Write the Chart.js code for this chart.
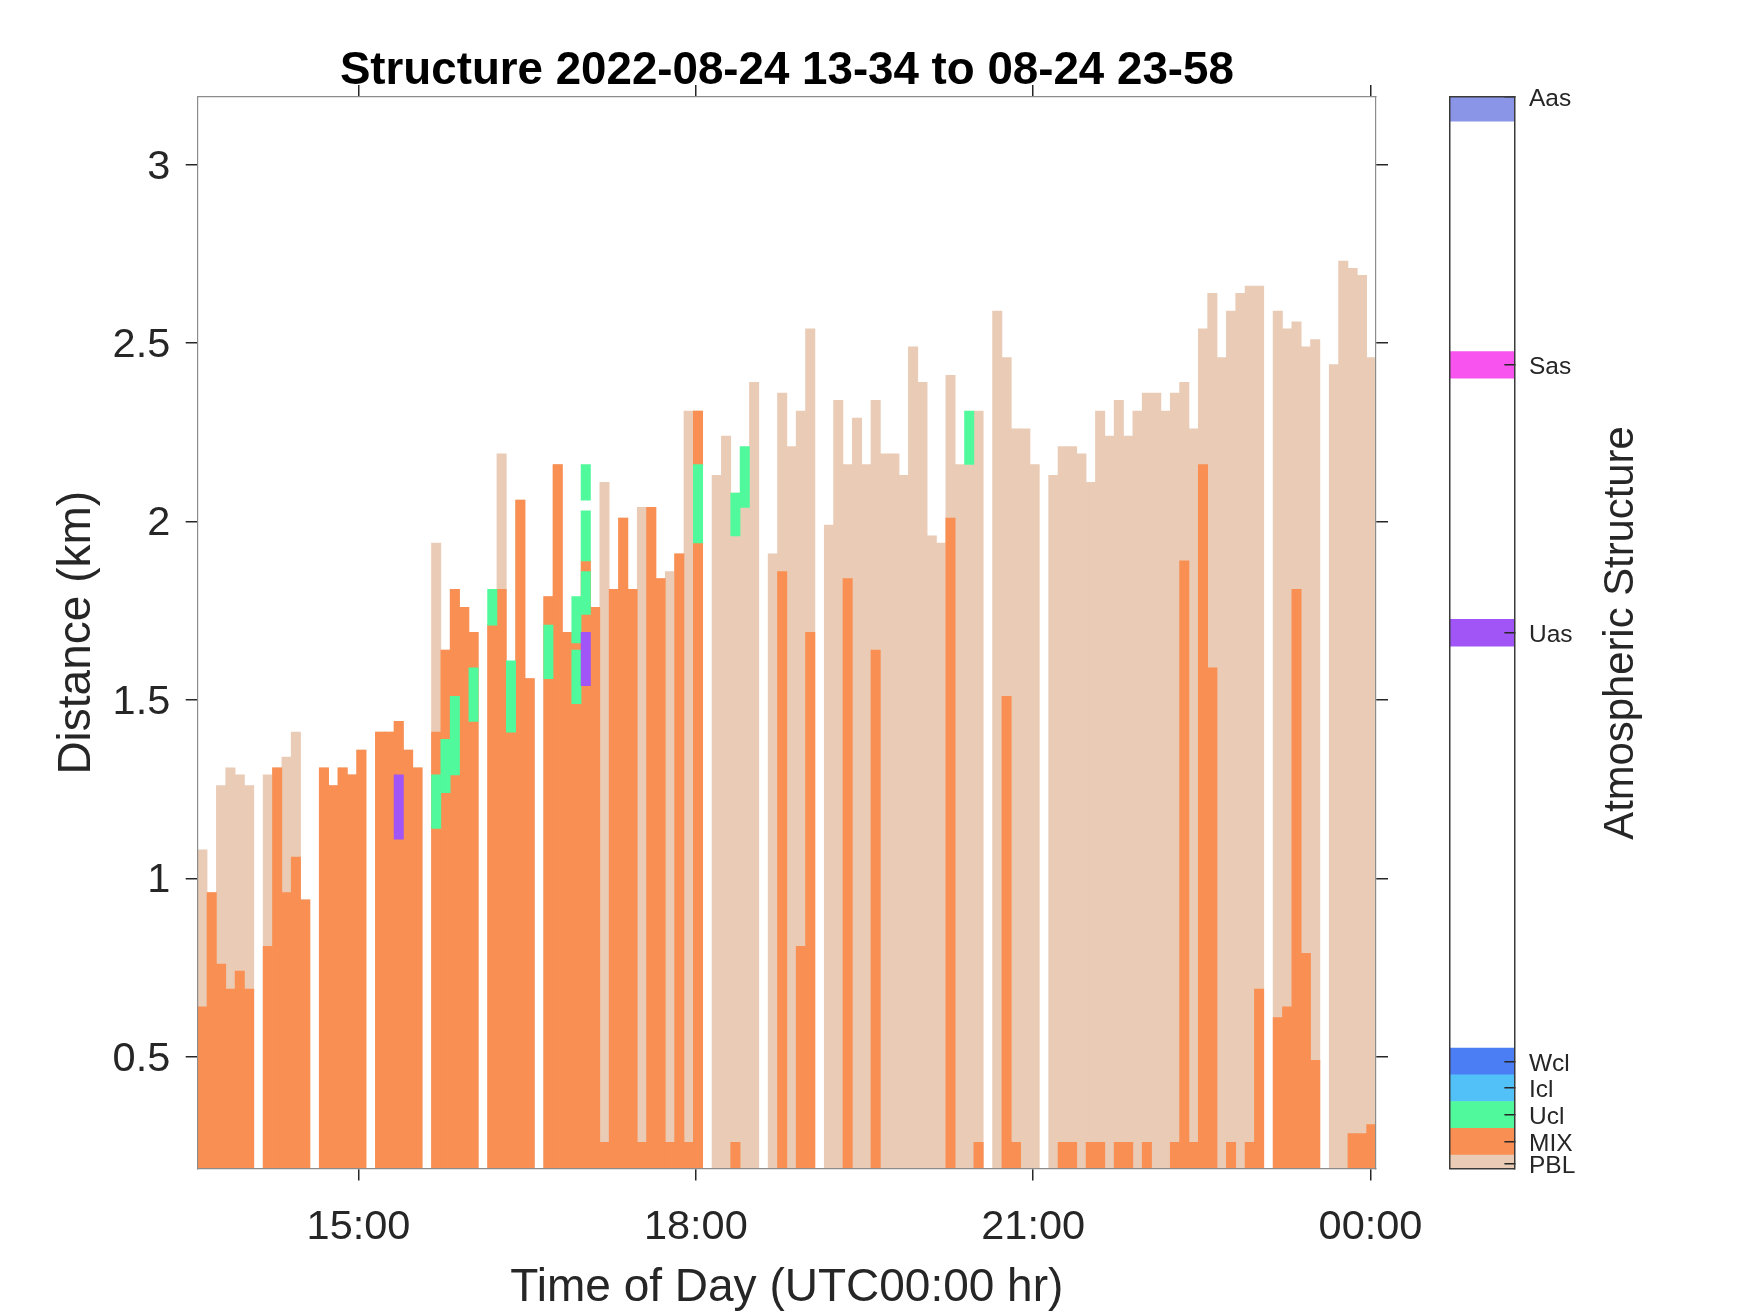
<!DOCTYPE html>
<html><head><meta charset="utf-8">
<script src="https://cdn.jsdelivr.net/npm/chart.js@4.4.1/dist/chart.umd.min.js"></script>
<style>
html,body{margin:0;padding:0;background:#fff;}
#wrap{position:relative;width:1750px;height:1313px;overflow:hidden;}
canvas{position:absolute;top:0;}
</style></head><body>
<div id="wrap">
<canvas id="main" width="1750" height="1313" style="left:0;width:1750px;height:1313px"></canvas>
<canvas id="cbar" width="350" height="1313" style="left:1400px;width:350px;height:1313px"></canvas>
<canvas id="cbtitle" width="100" height="1313" style="left:1570px;width:100px;height:1313px"></canvas>
</div>
<script>
// ---------------- data ----------------
const titleText = 'Structure 2022-08-24 13-34 to 08-24 23-58';
const startHour = 13.57;      // 13:34 (left edge of first profile)
const endHour = 24.049;       // right edge of last profile
const nProfiles = 126;        // ~5-minute profiles

// PBL height (km) per profile, null = no data
const pblTop = [
1.08, 0.96, 1.26, 1.31, 1.29, 1.26, null, 1.29, 1.31, 1.34,
1.41, 0.94, null, 1.31, 1.26, 1.31, 1.29, 1.36, null, 1.41,
1.41, 1.44, 1.36, 1.31, null, 1.94, 1.64, 1.81, 1.76, 1.69,
null, 1.71, 2.19, 1.41, 2.06, 1.56, null, 1.79, 2.16, 1.69,
1.66, 1.89, 1.76, 2.11, 1.81, 2.01, 1.81, 2.04, 2.04, 1.84,
1.86, 1.91, 2.31, 2.31, null, 2.13, 2.24, 2.08, 2.04, 2.39,
null, 1.91, 2.36, 2.21, 2.31, 2.54, null, 1.99, 2.34, 2.16,
2.29, 2.16, 2.34, 2.19, 2.19, 2.13, 2.49, 2.39, 1.96, 1.94,
2.41, 2.16, 2.16, 2.31, null, 2.59, 2.46, 2.26, 2.26, 2.16,
null, 2.13, 2.21, 2.21, 2.19, 2.11, 2.31, 2.24, 2.34, 2.24,
2.31, 2.36, 2.36, 2.31, 2.36, 2.39, 2.26, 2.54, 2.64, 2.46,
2.59, 2.64, 2.66, 2.66, null, 2.59, 2.54, 2.56, 2.49, 2.51,
null, 2.44, 2.73, 2.71, 2.69, 2.46
];
// Mixing layer height (km) per profile, null = none
const mixTop = [
0.64, 0.96, 0.76, 0.69, 0.74, 0.69, null, 0.81, 1.31, 0.96,
1.06, 0.94, null, 1.31, 1.26, 1.31, 1.29, 1.36, null, 1.41,
1.41, 1.44, 1.36, 1.31, null, 1.41, 1.64, 1.81, 1.76, 1.69,
null, 1.71, 1.81, 1.41, 2.06, 1.56, null, 1.79, 2.16, 1.69,
1.66, 1.89, 1.76, 0.26, 1.81, 2.01, 1.81, 0.26, 2.04, 1.84,
0.26, 1.91, 0.26, 2.31, null, null, null, 0.26, null, null,
null, null, 1.86, null, 0.81, 1.69, null, null, null, 1.84,
null, null, 1.64, null, null, null, null, null, null, null,
2.01, null, null, 0.26, null, null, 1.51, 0.26, null, null,
null, null, 0.26, 0.26, null, 0.26, 0.26, null, 0.26, 0.26,
null, 0.26, null, null, 0.26, 1.89, 0.26, 2.16, 1.59, null,
0.26, null, 0.26, 0.69, null, 0.61, 0.64, 1.81, 0.79, 0.49,
null, null, null, 0.285, 0.285, 0.31
];
// Undefined cloud layers: [profile index, base km, top km]
const uclLayers = [
[25, 1.14, 1.29], [26, 1.24, 1.39], [27, 1.29, 1.51], [29, 1.44, 1.59],
[31, 1.71, 1.81], [33, 1.41, 1.61], [37, 1.56, 1.71], [40, 1.66, 1.79],
[40, 1.49, 1.64], [41, 2.06, 2.16], [41, 1.89, 2.03], [41, 1.74, 1.86],
[53, 1.94, 2.16], [57, 1.96, 2.08], [58, 2.04, 2.21], [82, 2.16, 2.31]
];
// Undefined aerosol layers
const uasLayers = [[21, 1.11, 1.29], [41, 1.54, 1.69]];

const xTickVals = [15, 18, 21, 24];
const xTickLabels = ['15:00', '18:00', '21:00', '00:00'];
const yTickVals = [0.5, 1, 1.5, 2, 2.5, 3];
const yTickLabels = ['0.5', '1', '1.5', '2', '2.5', '3'];
const yMin = 0.187, yMax = 3.19;

// colour bar classes
const cbLabels = ['PBL', 'MIX', 'Ucl', 'Icl', 'Wcl', 'Uas', 'Sas', 'Aas'];
const cbTickVals = [0.17, 1, 2, 3, 4, 20, 30, 40];
const cbBandLo = [0, 0.5, 1.5, 2.5, 3.5, 19.5, 29.5, 39.1];
const cbBandHi = [0.5, 1.5, 2.5, 3.5, 4.5, 20.5, 30.5, 40];
const cbColors = ['#EACBB5', '#F98F52', '#50F99B', '#52C1F8', '#4B7DF4', '#A155F6', '#F853EE', '#8A95E8'];
const cbTitle = 'Atmospheric Structure';

// ---------------- build ----------------
const FONT = "'Liberation Sans', Arial, Helvetica, sans-serif";
const TXT = '#262626';
const step = (endHour - startHour) / nProfiles;
const centerOf = i => startHour + (i + 0.5) * step;
const colorOf = name => cbColors[cbLabels.indexOf(name)];

const colData = arr => arr.map((v, i) => v == null ? null : {x: centerOf(i), y: [0, v]}).filter(d => d);
const layerData = arr => arr.map(([i, lo, hi]) => ({x: centerOf(i), y: [lo, hi]}));

const barCommon = {borderWidth: 0, grouped: false, barPercentage: 1, categoryPercentage: 1, xAxisID: 'x', yAxisID: 'y'};

const datasets = [
  Object.assign({label: 'Uas', data: layerData(uasLayers), backgroundColor: colorOf('Uas')}, barCommon),
  Object.assign({label: 'Ucl', data: layerData(uclLayers), backgroundColor: colorOf('Ucl')}, barCommon),
  Object.assign({label: 'MIX', data: colData(mixTop), backgroundColor: colorOf('MIX')}, barCommon),
  Object.assign({label: 'PBL', data: colData(pblTop), backgroundColor: colorOf('PBL')}, barCommon)
];

const GRAY = '#8c8c8c';
const tickGrid = {drawOnChartArea: false, drawTicks: true, tickLength: 12, color: TXT, lineWidth: 1.5, offset: false};
const setTicks = vals => s => { s.ticks = vals.map(v => ({value: v})); };

new Chart(document.getElementById('main'), {
  type: 'bar',
  data: {datasets},
  options: {
    responsive: false, animation: false, devicePixelRatio: 1,
    layout: {padding: {left: 0, top: 0, bottom: 0, right: 362}},
    plugins: {legend: {display: false}, tooltip: {enabled: false}, title: {display: false}},
    scales: {
      x: {
        type: 'linear', position: 'bottom', min: startHour, max: endHour, offset: false,
        afterBuildTicks: setTicks(xTickVals),
        ticks: {callback: (v, i) => xTickLabels[i], font: {family: FONT, size: 41.5}, color: TXT, padding: 22.5, maxRotation: 0, autoSkip: false},
        grid: tickGrid,
        border: {display: true, color: GRAY, width: 1.2, z: 1},
        title: {display: true, text: 'Time of Day (UTC00:00 hr)', font: {family: FONT, size: 46, lineHeight: 1.08}, color: TXT, padding: {top: 0, bottom: 0}},
        afterFit: s => { s.height = 144.5; }
      },
      x2: {
        type: 'linear', position: 'top', min: startHour, max: endHour, offset: false,
        afterBuildTicks: setTicks(xTickVals),
        ticks: {display: false},
        grid: tickGrid,
        border: {display: true, color: GRAY, width: 1.2, z: 1},
        title: {display: true, text: titleText, font: {family: FONT, size: 45.7, weight: 'bold', lineHeight: 1.2}, color: '#000', padding: {top: 44, bottom: 0}},
        afterFit: s => { s.height = 97; }
      },
      y: {
        type: 'linear', position: 'left', min: yMin, max: yMax,
        afterBuildTicks: setTicks(yTickVals),
        ticks: {callback: (v, i) => yTickLabels[i], font: {family: FONT, size: 41.5}, color: TXT, padding: 15.4, labelOffset: 2.3, autoSkip: false},
        grid: tickGrid,
        border: {display: true, color: GRAY, width: 1.2, z: 1},
        title: {display: true, text: 'Distance (km)', font: {family: FONT, size: 46, lineHeight: 1.2}, color: TXT, padding: {top: 50, bottom: 0}},
        afterFit: s => { s.width = 197.7; }
      },
      y2: {
        type: 'linear', position: 'right', min: yMin, max: yMax,
        afterBuildTicks: setTicks(yTickVals),
        ticks: {display: false},
        grid: tickGrid,
        border: {display: true, color: GRAY, width: 1.2, z: 1},
        afterFit: s => { s.width = 12; }
      }
    }
  }
});

// ---------------- colour bar ----------------
const cbDatasets = cbLabels.map((name, k) => ({
  label: name, data: [[cbBandLo[k], cbBandHi[k]]], backgroundColor: cbColors[k],
  borderWidth: 0, grouped: false, barPercentage: 1, categoryPercentage: 1
}));
const CBB = '#3a3a3a';
new Chart(document.getElementById('cbar'), {
  type: 'bar',
  data: {labels: ['c'], datasets: cbDatasets},
  options: {
    responsive: false, animation: false, devicePixelRatio: 1,
    layout: {padding: {left: 49.7, top: 97, bottom: 144.5, right: 0}},
    plugins: {legend: {display: false}, tooltip: {enabled: false}},
    scales: {
      x: {type: 'category', position: 'bottom', offset: true, ticks: {display: false}, grid: {display: false},
          border: {display: true, color: CBB, width: 1.5, z: 2}, afterFit: s => { s.height = 0; }},
      xt: {type: 'category', position: 'top', labels: ['c'], offset: true, ticks: {display: false}, grid: {display: false},
          border: {display: true, color: CBB, width: 1.5, z: 2}, afterFit: s => { s.height = 0; }},
      yl: {type: 'linear', position: 'left', min: 0, max: 40, ticks: {display: false}, grid: {display: false},
          border: {display: true, color: CBB, width: 1.5, z: 2}, afterFit: s => { s.width = 0; }},
      y: {
        type: 'linear', position: 'right', min: 0, max: 40,
        afterBuildTicks: setTicks(cbTickVals),
        ticks: {callback: (v, i) => cbLabels[i], font: {family: FONT, size: 24.5}, color: TXT, padding: 24.6, labelOffset: 2.5, autoSkip: false},
        grid: {drawOnChartArea: false, drawTicks: true, tickLength: -10, color: TXT, lineWidth: 1.5, z: 1, offset: false},
        border: {display: true, color: CBB, width: 1.5, z: 2},
        afterFit: s => { s.width = 235.6; }
      }
    }
  }
});

// ---------------- colour bar title ----------------
new Chart(document.getElementById('cbtitle'), {
  type: 'bar',
  data: {datasets: []},
  options: {
    responsive: false, animation: false, devicePixelRatio: 1,
    layout: {padding: {left: 0, top: 0, bottom: 47, right: 0}},
    scales: {x: {display: false}, y: {display: false}},
    plugins: {legend: {display: false}, tooltip: {enabled: false},
      title: {display: true, position: 'left', text: cbTitle, font: {family: FONT, size: 41.8, weight: 'normal'}, color: TXT, padding: {top: 26.7, bottom: 0}}}
  }
});
</script>
</body></html>
